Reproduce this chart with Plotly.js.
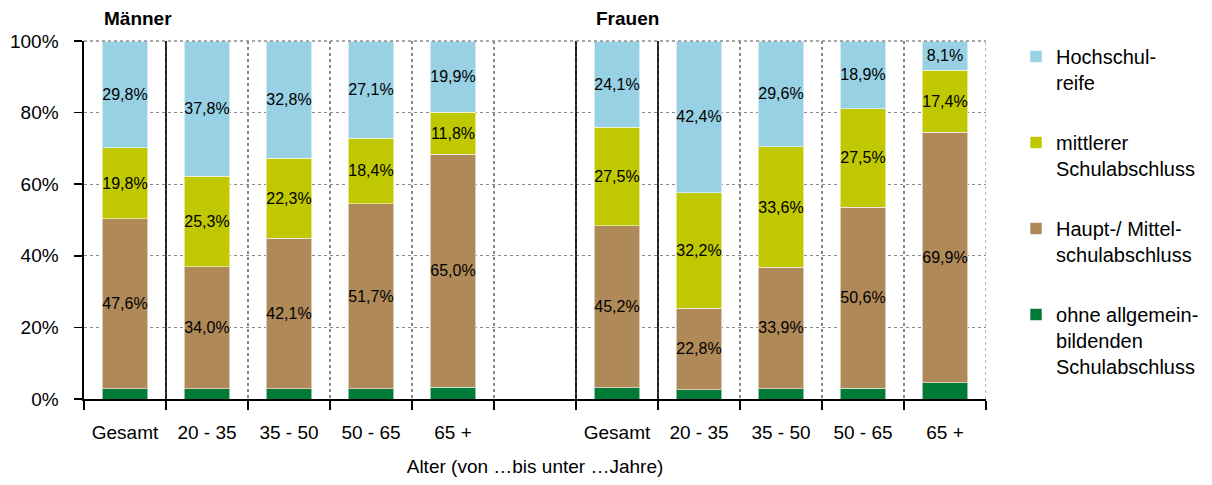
<!DOCTYPE html>
<html>
<head>
<meta charset="utf-8">
<script src="https://cdn.plot.ly/plotly-3.0.1.min.js"></script>
<style>html,body{margin:0;padding:0;background:#fff}#chart{width:1212px;height:485px}</style>
</head>
<body>
<div id="chart"></div>
<script>
// ---- data ----
const ageGroups = ['Gesamt', '20 - 35', '35 - 50', '50 - 65', '65 +'];
const groupTitles = ['Männer', 'Frauen'];
const seriesNames = ['ohne allgemein-<br>bildenden<br>Schulabschluss', 'Haupt-/ Mittel-<br>schulabschluss', 'mittlerer<br>Schulabschluss', 'Hochschul-<br>reife'];
const menOhne = [2.8, 2.9, 2.8, 2.8, 3.3];
const menHaupt = [47.6, 34.0, 42.1, 51.7, 65.0];
const menMittel = [19.8, 25.3, 22.3, 18.4, 11.8];
const menHoch = [29.8, 37.8, 32.8, 27.1, 19.9];
const womenOhne = [3.2, 2.6, 2.9, 3.0, 4.6];
const womenHaupt = [45.2, 22.8, 33.9, 50.6, 69.9];
const womenMittel = [27.5, 32.2, 33.6, 27.5, 17.4];
const womenHoch = [24.1, 42.4, 29.6, 18.9, 8.1];
const xTitle = 'Alter (von …bis unter …Jahre)';

// ---- build ----
const colors = ['#007A37', '#AF8A58', '#BFC800', '#97D1E3'];
const menX = ageGroups.map((_, i) => i);
const womenX = ageGroups.map((_, i) => i + ageGroups.length + 1);
const xs = menX.concat(womenX);
const men = [menOhne, menHaupt, menMittel, menHoch];
const women = [womenOhne, womenHaupt, womenMittel, womenHoch];

const traces = men.map((m, k) => ({
  type: 'bar',
  name: seriesNames[k],
  legendgroup: 'g' + k,
  legendrank: 1000 - k,
  x: xs,
  y: m.concat(women[k]),
  marker: {color: colors[k], line: {color: 'rgba(255,255,255,0.55)', width: 1}},
  texttemplate: k === 0 ? '' : '%{y:.1f}%',
  textposition: k === 0 ? 'none' : 'inside',
  insidetextanchor: 'middle',
  textangle: 0,
  constraintext: 'none',
  textfont: {size: 16, color: '#000', family: 'Liberation Sans, Arial, sans-serif'},
  hoverinfo: 'skip'
}));

const nSlots = ageGroups.length * 2 + 1;
const tickvals = xs;
const ticktext = ageGroups.concat(ageGroups);
const boundaries = [];
for (let b = -0.5; b <= nSlots - 0.5; b += 1) boundaries.push(b);

const solidAt = [0.5, ageGroups.length + 0.5, ageGroups.length + 1.5];
const shapes = solidAt.map(v => ({
  type: 'line', xref: 'x', yref: 'paper', x0: v, x1: v, y0: 0, y1: 1,
  line: {color: '#000', width: 1.6}
}));
shapes.push({type: 'line', xref: 'x', yref: 'paper', x0: nSlots - 0.5, x1: nSlots - 0.5, y0: 0, y1: 1,
  line: {color: '#8a8a8a', width: 1.2, dash: 'dot'}});
shapes.push({type: 'line', xref: 'paper', yref: 'paper', x0: 0, x1: 1, y0: 1, y1: 1,
  line: {color: '#8a8a8a', width: 1.5, dash: 'dot'}});

const annotations = [
  {text: '<b>' + groupTitles[0] + '</b>', x: menX[0] - 0.275, xref: 'x', xanchor: 'left', y: 1.064, yref: 'paper', yanchor: 'middle', showarrow: false, font: {size: 19, color: '#000'}},
  {text: '<b>' + groupTitles[1] + '</b>', x: womenX[0] - 0.275, xref: 'x', xanchor: 'left', y: 1.064, yref: 'paper', yanchor: 'middle', showarrow: false, font: {size: 19, color: '#000'}}
];

const layout = {
  width: 1212, height: 485,
  margin: {l: 84, r: 226, t: 41, b: 86, autoexpand: false},
  paper_bgcolor: '#fff', plot_bgcolor: '#fff',
  font: {family: 'Liberation Sans, Arial, sans-serif', color: '#000', size: 19},
  separators: ',.',
  barmode: 'stack',
  bargap: 0.45,
  showlegend: true,
  legend: {
    xref: 'container', yref: 'container',
    x: 0.8383, xanchor: 'left', y: 0.9237, yanchor: 'top',
    traceorder: 'grouped', tracegroupgap: 31, valign: 'top',
    maxheight: 1,
    font: {size: 20, color: '#000'}, bgcolor: 'rgba(0,0,0,0)'
  },
  xaxis: {
    range: [-0.5, nSlots - 0.5],
    tickmode: 'array', tickvals: tickvals, ticktext: ticktext,
    ticks: '', showgrid: false, zeroline: false,
    ticklabelstandoff: 16,
    showline: true, linecolor: '#000', linewidth: 1.6,
    tickfont: {size: 19},
    minor: {
      tickmode: 'array', tickvals: boundaries, ticks: 'outside', ticklen: 9, tickwidth: 1.6, tickcolor: '#000',
      showgrid: true, gridcolor: '#8a8a8a', griddash: 'dot', gridwidth: 1.2
    },
    title: {text: xTitle, font: {size: 19}, standoff: 17}
  },
  yaxis: {
    range: [0, 100], dtick: 20, ticksuffix: '%',
    ticks: 'outside', ticklen: 8, tickwidth: 1.6, tickcolor: '#000',
    ticklabelstandoff: 12,
    showline: true, linecolor: '#000', linewidth: 1.6,
    showgrid: true, gridcolor: '#8a8a8a', griddash: 'dot', gridwidth: 1.2,
    zeroline: false, tickfont: {size: 19}
  },
  shapes: shapes,
  annotations: annotations
};

Plotly.newPlot('chart', traces, layout, {displayModeBar: false, staticPlot: true});
</script>
</body>
</html>
